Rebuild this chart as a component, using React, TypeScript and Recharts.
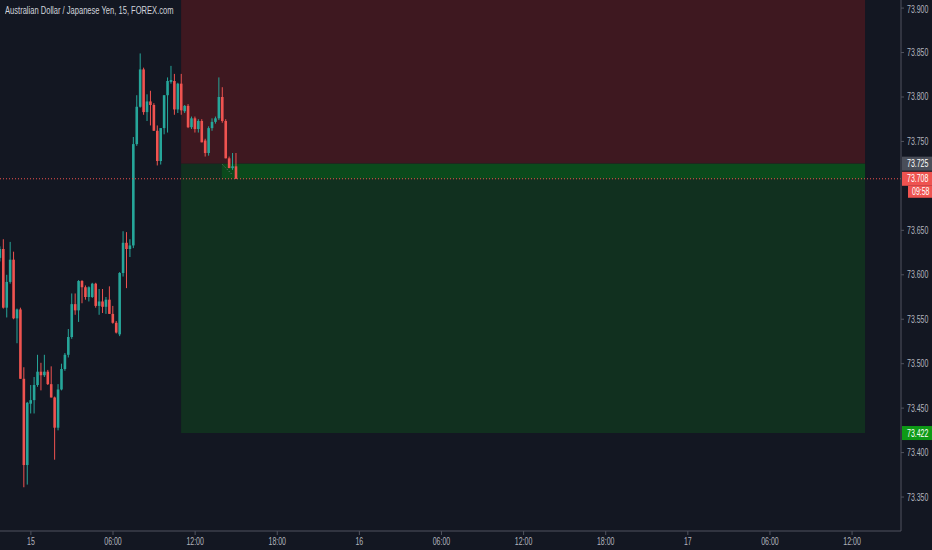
import { Bar, ComposedChart, ReferenceArea, ReferenceLine, XAxis, YAxis } from "recharts"

// 15 minute bars, index 0 = 15th 00:00
const firstIndex = -9

const opens = [
  73.619, 73.629, 73.563, 73.592, 73.617, 73.551, 73.561, 73.483, 73.386, 73.455,
  73.459, 73.476, 73.491, 73.487, 73.491, 73.477, 73.462, 73.428, 73.471, 73.494,
  73.51, 73.53, 73.567, 73.56, 73.593, 73.586, 73.575, 73.575, 73.59, 73.565,
  73.57, 73.564, 73.572, 73.556, 73.546, 73.533, 73.602, 73.636, 73.629, 73.633,
  73.747, 73.789, 73.831, 73.783, 73.795, 73.791, 73.762, 73.728, 73.765, 73.802,
  73.817, 73.818, 73.786, 73.815, 73.784, 73.79, 73.766, 73.776, 73.764, 73.773,
  73.751, 73.737, 73.765, 73.772, 73.776, 73.8, 73.773, 73.731, 73.72, 73.722,
]
const highs = [
  73.632, 73.64, 73.6, 73.637, 73.626, 73.562, 73.563, 73.496, 73.457, 73.476,
  73.485, 73.51, 73.501, 73.51, 73.493, 73.497, 73.463, 73.477, 73.5, 73.512,
  73.539, 73.579, 73.579, 73.594, 73.594, 73.588, 73.587, 73.591, 73.591, 73.584,
  73.584, 73.575, 73.587, 73.565, 73.548, 73.603, 73.649, 73.648, 73.64, 73.755,
  73.802, 73.849, 73.833, 73.803, 73.807, 73.793, 73.768, 73.765, 73.802, 73.822,
  73.835, 73.826, 73.816, 73.826, 73.791, 73.792, 73.778, 73.778, 73.775, 73.775,
  73.753, 73.767, 73.776, 73.778, 73.822, 73.811, 73.775, 73.733, 73.737, 73.737,
]
const lows = [
  73.615, 73.562, 73.552, 73.59, 73.55, 73.523, 73.483, 73.361, 73.364, 73.444,
  73.444, 73.474, 73.47, 73.485, 73.476, 73.462, 73.392, 73.425, 73.47, 73.492,
  73.507, 73.528, 73.555, 73.547, 73.568, 73.572, 73.57, 73.574, 73.563, 73.555,
  73.557, 73.556, 73.556, 73.545, 73.534, 73.531, 73.598, 73.585, 73.62, 73.63,
  73.745, 73.788, 73.78, 73.773, 73.768, 73.762, 73.723, 73.724, 73.758, 73.76,
  73.815, 73.78, 73.782, 73.78, 73.782, 73.765, 73.764, 73.76, 73.76, 73.749,
  73.733, 73.734, 73.762, 73.77, 73.774, 73.771, 73.731, 73.72, 73.718, 73.708,
]
const closes = [
  73.629, 73.563, 73.592, 73.617, 73.551, 73.561, 73.483, 73.386, 73.456, 73.459,
  73.476, 73.491, 73.487, 73.491, 73.477, 73.462, 73.428, 73.471, 73.494, 73.51,
  73.53, 73.567, 73.56, 73.593, 73.586, 73.575, 73.586, 73.59, 73.565, 73.57,
  73.564, 73.572, 73.556, 73.546, 73.535, 73.602, 73.636, 73.629, 73.633, 73.747,
  73.789, 73.831, 73.783, 73.795, 73.791, 73.762, 73.728, 73.765, 73.802, 73.818,
  73.819, 73.786, 73.815, 73.785, 73.79, 73.766, 73.776, 73.764, 73.773, 73.749,
  73.737, 73.765, 73.772, 73.776, 73.8, 73.773, 73.731, 73.72, 73.722, 73.708,
]

const timeTicks = [0, 24, 48, 72, 96, 120, 144, 168, 192, 216, 240]
const timeLabels = ["15", "06:00", "12:00", "18:00", "16", "06:00", "12:00", "18:00", "17", "06:00", "12:00"]
const priceTicks = [73.35, 73.4, 73.45, 73.5, 73.55, 73.6, 73.65, 73.75, 73.8, 73.85, 73.9]

// long position tool
const entryPrice = 73.725
const targetPrice = 73.422
const stopPrice = 73.95
const lastPrice = 73.708
const countdown = "09:58"
const positionStart = 43.9
const positionEnd = 243.8
const fillStart = 55.8

const UP = "#26a69a"
const DOWN = "#ef5350"
const BG = "#131722"
const AXIS = "#50535e"
const TEXT = "#b2b5be"
const FONT = "'Liberation Sans', Arial, sans-serif"
const SQUEEZE = 0.7

const data = opens.map((open, k) => ({
  i: firstIndex + k,
  open,
  high: highs[k],
  low: lows[k],
  close: closes[k],
}))

// narrow text, like the TradingView scale font
function NarrowText({ x, y, anchor = "start", fill = TEXT, children }: any) {
  return (
    <g transform={`translate(${x},${y}) scale(${SQUEEZE},1)`}>
      <text x={0} y={0} textAnchor={anchor} fill={fill} fontSize={10} fontFamily={FONT}>
        {children}
      </text>
    </g>
  )
}

function PriceTick({ x, y, payload }: any) {
  return (
    <NarrowText x={x} y={y + 3.5}>
      {payload.value.toFixed(3)}
    </NarrowText>
  )
}

function TimeTick({ x, y, payload }: any) {
  const label = timeLabels[timeTicks.indexOf(payload.value)] ?? ""
  return (
    <NarrowText x={x} y={y + 9} anchor="middle">
      {label}
    </NarrowText>
  )
}

function Candle(props: any) {
  const { x, y, width, height, payload } = props
  const top = Math.min(y, y + height)
  const bottom = Math.max(y, y + height)
  const { open, high, low, close } = payload
  const span = high - low || 1
  const py = (p: number) => top + ((high - p) / span) * (bottom - top)
  const cx = x + width / 2
  const color = close >= open ? UP : DOWN
  const bTop = py(Math.max(open, close))
  const bBot = py(Math.min(open, close))
  return (
    <g>
      <line x1={cx} x2={cx} y1={top} y2={bottom} stroke={color} strokeWidth={1} />
      <rect x={cx - 1.3} y={bTop} width={2.6} height={Math.max(bBot - bTop, 1)} fill={color} />
    </g>
  )
}

function PriceTag(props: any) {
  const { viewBox, text, fill, sub } = props
  if (!viewBox) return null
  const x = viewBox.x + viewBox.width + 1
  const y = viewBox.y
  return (
    <g>
      <rect x={x} y={y - 7} width={31} height={14} fill={fill} />
      <NarrowText x={x + 5} y={y + 3.5} fill="#ffffff">
        {text}
      </NarrowText>
      {sub && (
        <>
          <rect x={x + 6} y={y + 7} width={25} height={12} fill={fill} />
          <NarrowText x={x + 10} y={y + 16.5} fill="#ffffff">
            {sub}
          </NarrowText>
        </>
      )}
    </g>
  )
}

export default function App() {
  return (
    <div style={{ position: "relative", width: 932, height: 550, background: BG, overflow: "hidden" }}>
      <style>{"body{margin:0;background:#131722}"}</style>
      <ComposedChart width={932} height={550} data={data} margin={{ top: 0, right: 0, left: 0, bottom: 0 }}>
        <ReferenceArea
          x1={positionStart}
          x2={positionEnd}
          y1={entryPrice}
          y2={stopPrice}
          fill="#3e1820"
          fillOpacity={1}
          stroke="none"
          ifOverflow="hidden"
        />
        <ReferenceArea
          x1={positionStart}
          x2={positionEnd}
          y1={targetPrice}
          y2={entryPrice}
          fill="#11301f"
          fillOpacity={1}
          stroke="none"
          ifOverflow="hidden"
        />
        <ReferenceArea
          x1={fillStart}
          x2={positionEnd}
          y1={lastPrice}
          y2={entryPrice}
          fill="#0b4a1c"
          fillOpacity={1}
          stroke="none"
          ifOverflow="hidden"
        />
        <ReferenceLine
          segment={[
            { x: 56, y: 73.724 },
            { x: 59, y: 73.712 },
          ]}
          stroke="#787b86"
          strokeDasharray="1 2"
        />
        <XAxis
          dataKey="i"
          type="number"
          domain={[-9.03, 254.3]}
          allowDataOverflow
          ticks={timeTicks}
          height={19}
          stroke={AXIS}
          tickSize={4}
          tickMargin={1}
          tick={<TimeTick />}
        />
        <YAxis
          orientation="right"
          type="number"
          domain={[73.3118, 73.9091]}
          allowDataOverflow
          ticks={priceTicks}
          width={31}
          stroke={AXIS}
          tickSize={3}
          tickMargin={3}
          tick={<PriceTick />}
        />
        <Bar
          dataKey={(d: any) => [d.low, d.high]}
          barSize={3}
          shape={Candle}
          isAnimationActive={false}
        />
        <ReferenceLine
          y={entryPrice}
          stroke="none"
          label={(p: any) => <PriceTag {...p} text="73.725" fill="#4a4e59" />}
        />
        <ReferenceLine
          y={lastPrice}
          stroke={DOWN}
          strokeDasharray="1 2"
          strokeWidth={1}
          label={(p: any) => <PriceTag {...p} text="73.708" fill={DOWN} sub={countdown} />}
        />
        <ReferenceLine
          y={targetPrice}
          stroke="none"
          label={(p: any) => <PriceTag {...p} text="73.422" fill="#0e9a16" />}
        />
      </ComposedChart>
      <div
        style={{
          position: "absolute",
          left: 5,
          top: 4,
          color: "#d1d4dc",
          fontSize: 10.5,
          fontFamily: FONT,
          whiteSpace: "nowrap",
          transform: "scaleX(0.72)",
          transformOrigin: "left top",
        }}
      >
        Australian Dollar / Japanese Yen, 15, FOREX.com
      </div>
    </div>
  )
}
